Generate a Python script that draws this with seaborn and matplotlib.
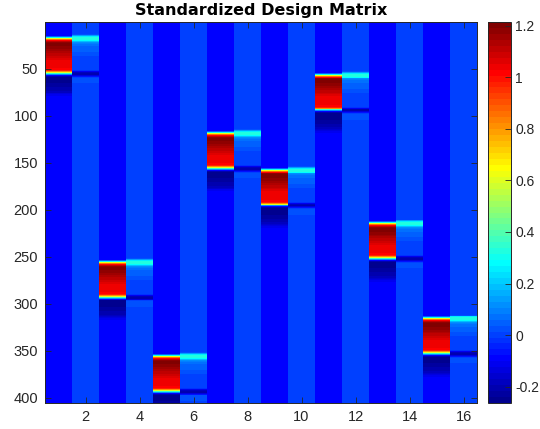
import numpy as np
import matplotlib
matplotlib.use("Agg")
import matplotlib.pyplot as plt
from matplotlib.colors import ListedColormap
import seaborn as sns

# ---- design ---------------------------------------------------------------
n_scans = 405
n_regressors = 16

# each condition has a main regressor (odd column) followed by its temporal
# derivative (even column); blocks listed in the order they occur in time
block_columns = [1, 11, 7, 9, 13, 3, 15, 5]
block_onsets = [16, 55, 117, 156, 213, 254, 314, 354]

main_baseline = -0.09
deriv_baseline = 0.0

# standardized response of a main regressor around one block,
# first value belongs to scan (onset + block_response_start)
block_response_start = -2
block_response = [
    -0.09, 0.05, 0.30, 0.62, 0.85, 1.02, 1.12, 1.18, 1.21, 1.214,
    1.21, 1.20, 1.19, 1.18, 1.17, 1.16, 1.15, 1.14, 1.13, 1.12,
    1.11, 1.10, 1.09, 1.08, 1.07, 1.06, 1.05, 1.05, 1.04, 1.04,
    1.04, 1.03, 1.03, 1.03, 1.03, 1.02, 1.02, 0.97, 0.82, 0.60,
    0.36, 0.12, -0.08, -0.20, -0.25, -0.263, -0.26, -0.255, -0.25, -0.245,
    -0.24, -0.235, -0.23, -0.225, -0.22, -0.215, -0.21, -0.205, -0.20, -0.19,
    -0.18, -0.16, -0.14, -0.12, -0.11, -0.10, -0.095, -0.09,
]

# standardized response of the matching temporal derivative
deriv_response_start = -3
deriv_response = [
    0.02, 0.14, 0.26, 0.32, 0.33, 0.32, 0.27, 0.19, 0.12, 0.09,
    0.08, 0.07, 0.07, 0.06, 0.06, 0.05, 0.05, 0.04, 0.04, 0.03,
    0.03, 0.02, 0.02, 0.01, 0.00, 0.00, 0.00, 0.00, 0.00, 0.00,
    0.00, 0.00, 0.00, 0.00, 0.00, 0.00, 0.00, 0.00, -0.03, -0.12,
    -0.19, -0.21, -0.20, -0.14, -0.07, 0.00, 0.02, 0.02, 0.02, 0.02,
    0.02, 0.02, 0.01, 0.01, 0.01, 0.00,
]

x_ticks = [2, 4, 6, 8, 10, 12, 14, 16]
y_ticks = [50, 100, 150, 200, 250, 300, 350, 400]
cbar_ticks = [-0.2, 0.0, 0.2, 0.4, 0.6, 0.8, 1.0, 1.2]
cbar_labels = ["-0.2", "0", "0.2", "0.4", "0.6", "0.8", "1", "1.2"]

title = "Standardized Design Matrix"

# ---- assemble the matrix --------------------------------------------------
X = np.empty((n_scans, n_regressors))
X[:, 0::2] = main_baseline
X[:, 1::2] = deriv_baseline
for col, onset in zip(block_columns, block_onsets):
    for i, v in enumerate(block_response):
        r = onset + block_response_start + i
        if 0 <= r < n_scans:
            X[r, col - 1] = v
    for i, v in enumerate(deriv_response):
        r = onset + deriv_response_start + i
        if 0 <= r < n_scans:
            X[r, col] = v


def matlab_jet(m=64):
    """Classic 64-step jet colour table."""
    n = int(np.ceil(m / 4))
    u = np.concatenate([np.arange(1, n + 1) / n, np.ones(n - 1),
                        np.arange(n, 0, -1) / n])
    g = int(np.ceil(n / 2)) - (1 if m % 4 == 1 else 0) + np.arange(1, len(u) + 1)
    r = g + n
    b = g - n
    J = np.zeros((m, 3))
    for idx, ch in ((r, 0), (g, 1), (b, 2)):
        ok = (idx >= 1) & (idx <= m)
        J[idx[ok] - 1, ch] = u[ok]
    return ListedColormap(J)


# ---- draw -----------------------------------------------------------------
plt.rcParams["font.family"] = ["Liberation Sans", "DejaVu Sans"]
ink = "#262626"

W, H = 540, 429
fig = plt.figure(figsize=(W / 100, H / 100), dpi=100)
ax = fig.add_axes([45 / W, 26 / H, 432 / W, 381 / H])
cax = fig.add_axes([488 / W, 26 / H, 23 / W, 381 / H])

sns.heatmap(X, ax=ax, cbar_ax=cax, cmap=matlab_jet(64),
            vmin=X.min(), vmax=X.max(),
            xticklabels=False, yticklabels=False)

ax.set_xticks([t - 0.5 for t in x_ticks])
ax.set_xticklabels([str(t) for t in x_ticks], rotation=0)
ax.set_yticks([t - 0.5 for t in y_ticks])
ax.set_yticklabels([str(t) for t in y_ticks], rotation=0)
ax.tick_params(direction="in", length=4, width=0.6, color=ink,
               top=True, right=True, labeltop=False, labelright=False,
               labelsize=10.5, labelcolor=ink, pad=5)
for sp in ax.spines.values():
    sp.set_visible(True)
    sp.set_color(ink)
    sp.set_linewidth(0.7)

ax.set_title(title, fontsize=11.5, fontweight="bold", family="DejaVu Sans",
             color="black", pad=5)

cb = ax.collections[0].colorbar
cb.set_ticks(cbar_ticks)
cb.set_ticklabels(cbar_labels)
cb.outline.set_linewidth(0.7)
cb.outline.set_edgecolor(ink)
cax.tick_params(direction="in", length=4, width=0.6, color=ink,
                labelsize=10, labelcolor=ink, pad=3)

fig.savefig("out.png", dpi=100)
